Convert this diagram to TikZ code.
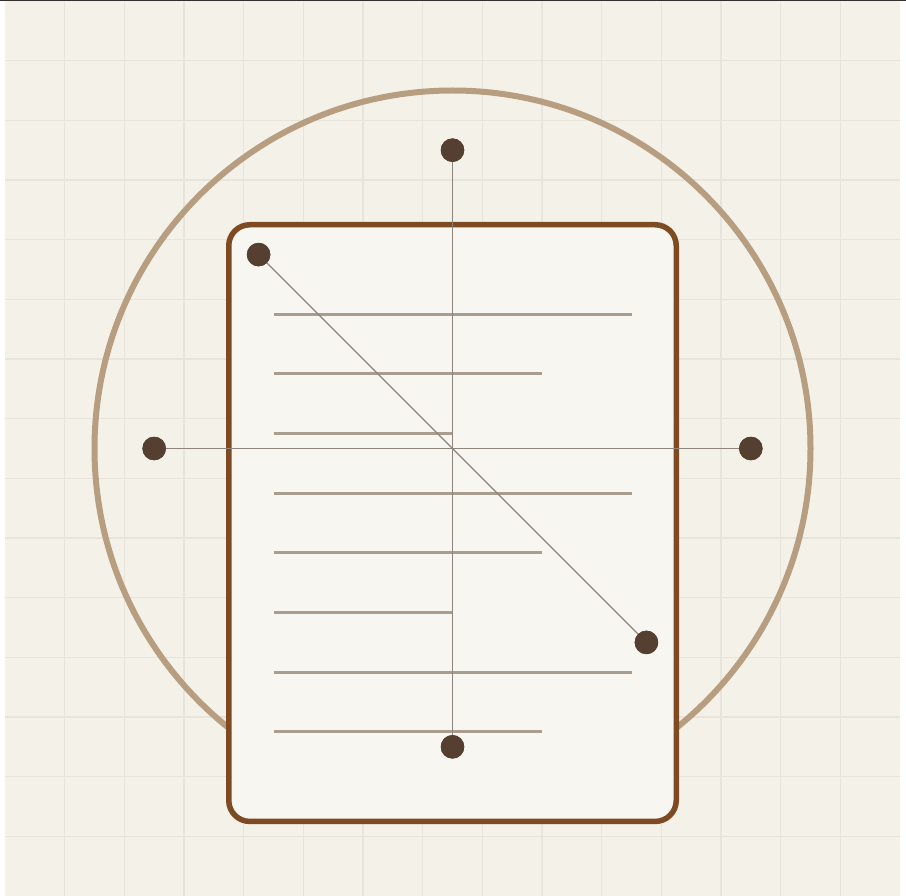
\documentclass[tikz,border=0pt]{standalone}
\usetikzlibrary{calc}
\definecolor{bgc}{HTML}{F4F1E9}
\definecolor{gridc}{HTML}{E9E4DB}
\definecolor{ringc}{HTML}{B79E80}
\definecolor{docedge}{HTML}{7E4A22}
\definecolor{docfill}{HTML}{F8F6F1}
\definecolor{textln}{HTML}{A99D8F}
\definecolor{dotc}{HTML}{553F30}
\definecolor{axisc}{HTML}{8E847B}
\tikzset{
  dotnode/.style={circle, fill=dotc, inner sep=0pt, minimum size=23.5pt},
  textline/.style={draw=textln, line width=3pt},
  axisline/.style={draw=axisc, line width=1.4pt},
}
\begin{document}
\begin{tikzpicture}[x=1pt,y=-1pt]
\useasboundingbox (0,0) rectangle (906,896);
\fill[white] (0,0) rectangle (906,896);
\fill[bgc] (5,0) rectangle (900,896);
\begin{scope}[shift={(5,1)}, x=1.49167pt, y=-1.49167pt]
  \foreach \i in {1,...,14} {
    \draw[gridc, line width=1.2pt] (\i*40,0) -- (\i*40,600);
    \draw[gridc, line width=1.2pt] (0,\i*40) -- (600,\i*40);
  }
  \draw[ringc, line width=6pt] (300,300) circle[radius=240];
  \draw[docedge, fill=docfill, line width=5.5pt, rounded corners=21] (150,150) rectangle (450,550);
  \foreach \y/\xe in {210/420,250/360,290/300,330/420,370/360,410/300,450/420,490/360} {
    \draw[textline] (180,\y) -- (\xe,\y);
  }
  \node[dotnode] (top) at (300,100) {};
  \node[dotnode] (bot) at (300,500) {};
  \node[dotnode] (lft) at (100,300) {};
  \node[dotnode] (rgt) at (500,300) {};
  \node[dotnode] (tl) at (170,170) {};
  \node[dotnode] (br) at (430,430) {};
\end{scope}
\draw[axisline] (top.center) -- (bot.center);
\draw[axisline] (lft.center) -- (rgt.center);
\draw[axisline] (tl.center) -- (br.center);
\foreach \n in {top,bot,lft,rgt,tl,br} \fill[dotc] (\n) circle[radius=11.75pt];
\fill[black!80!bgc] (0,0) rectangle (906,1.5);
\end{tikzpicture}
\end{document}
